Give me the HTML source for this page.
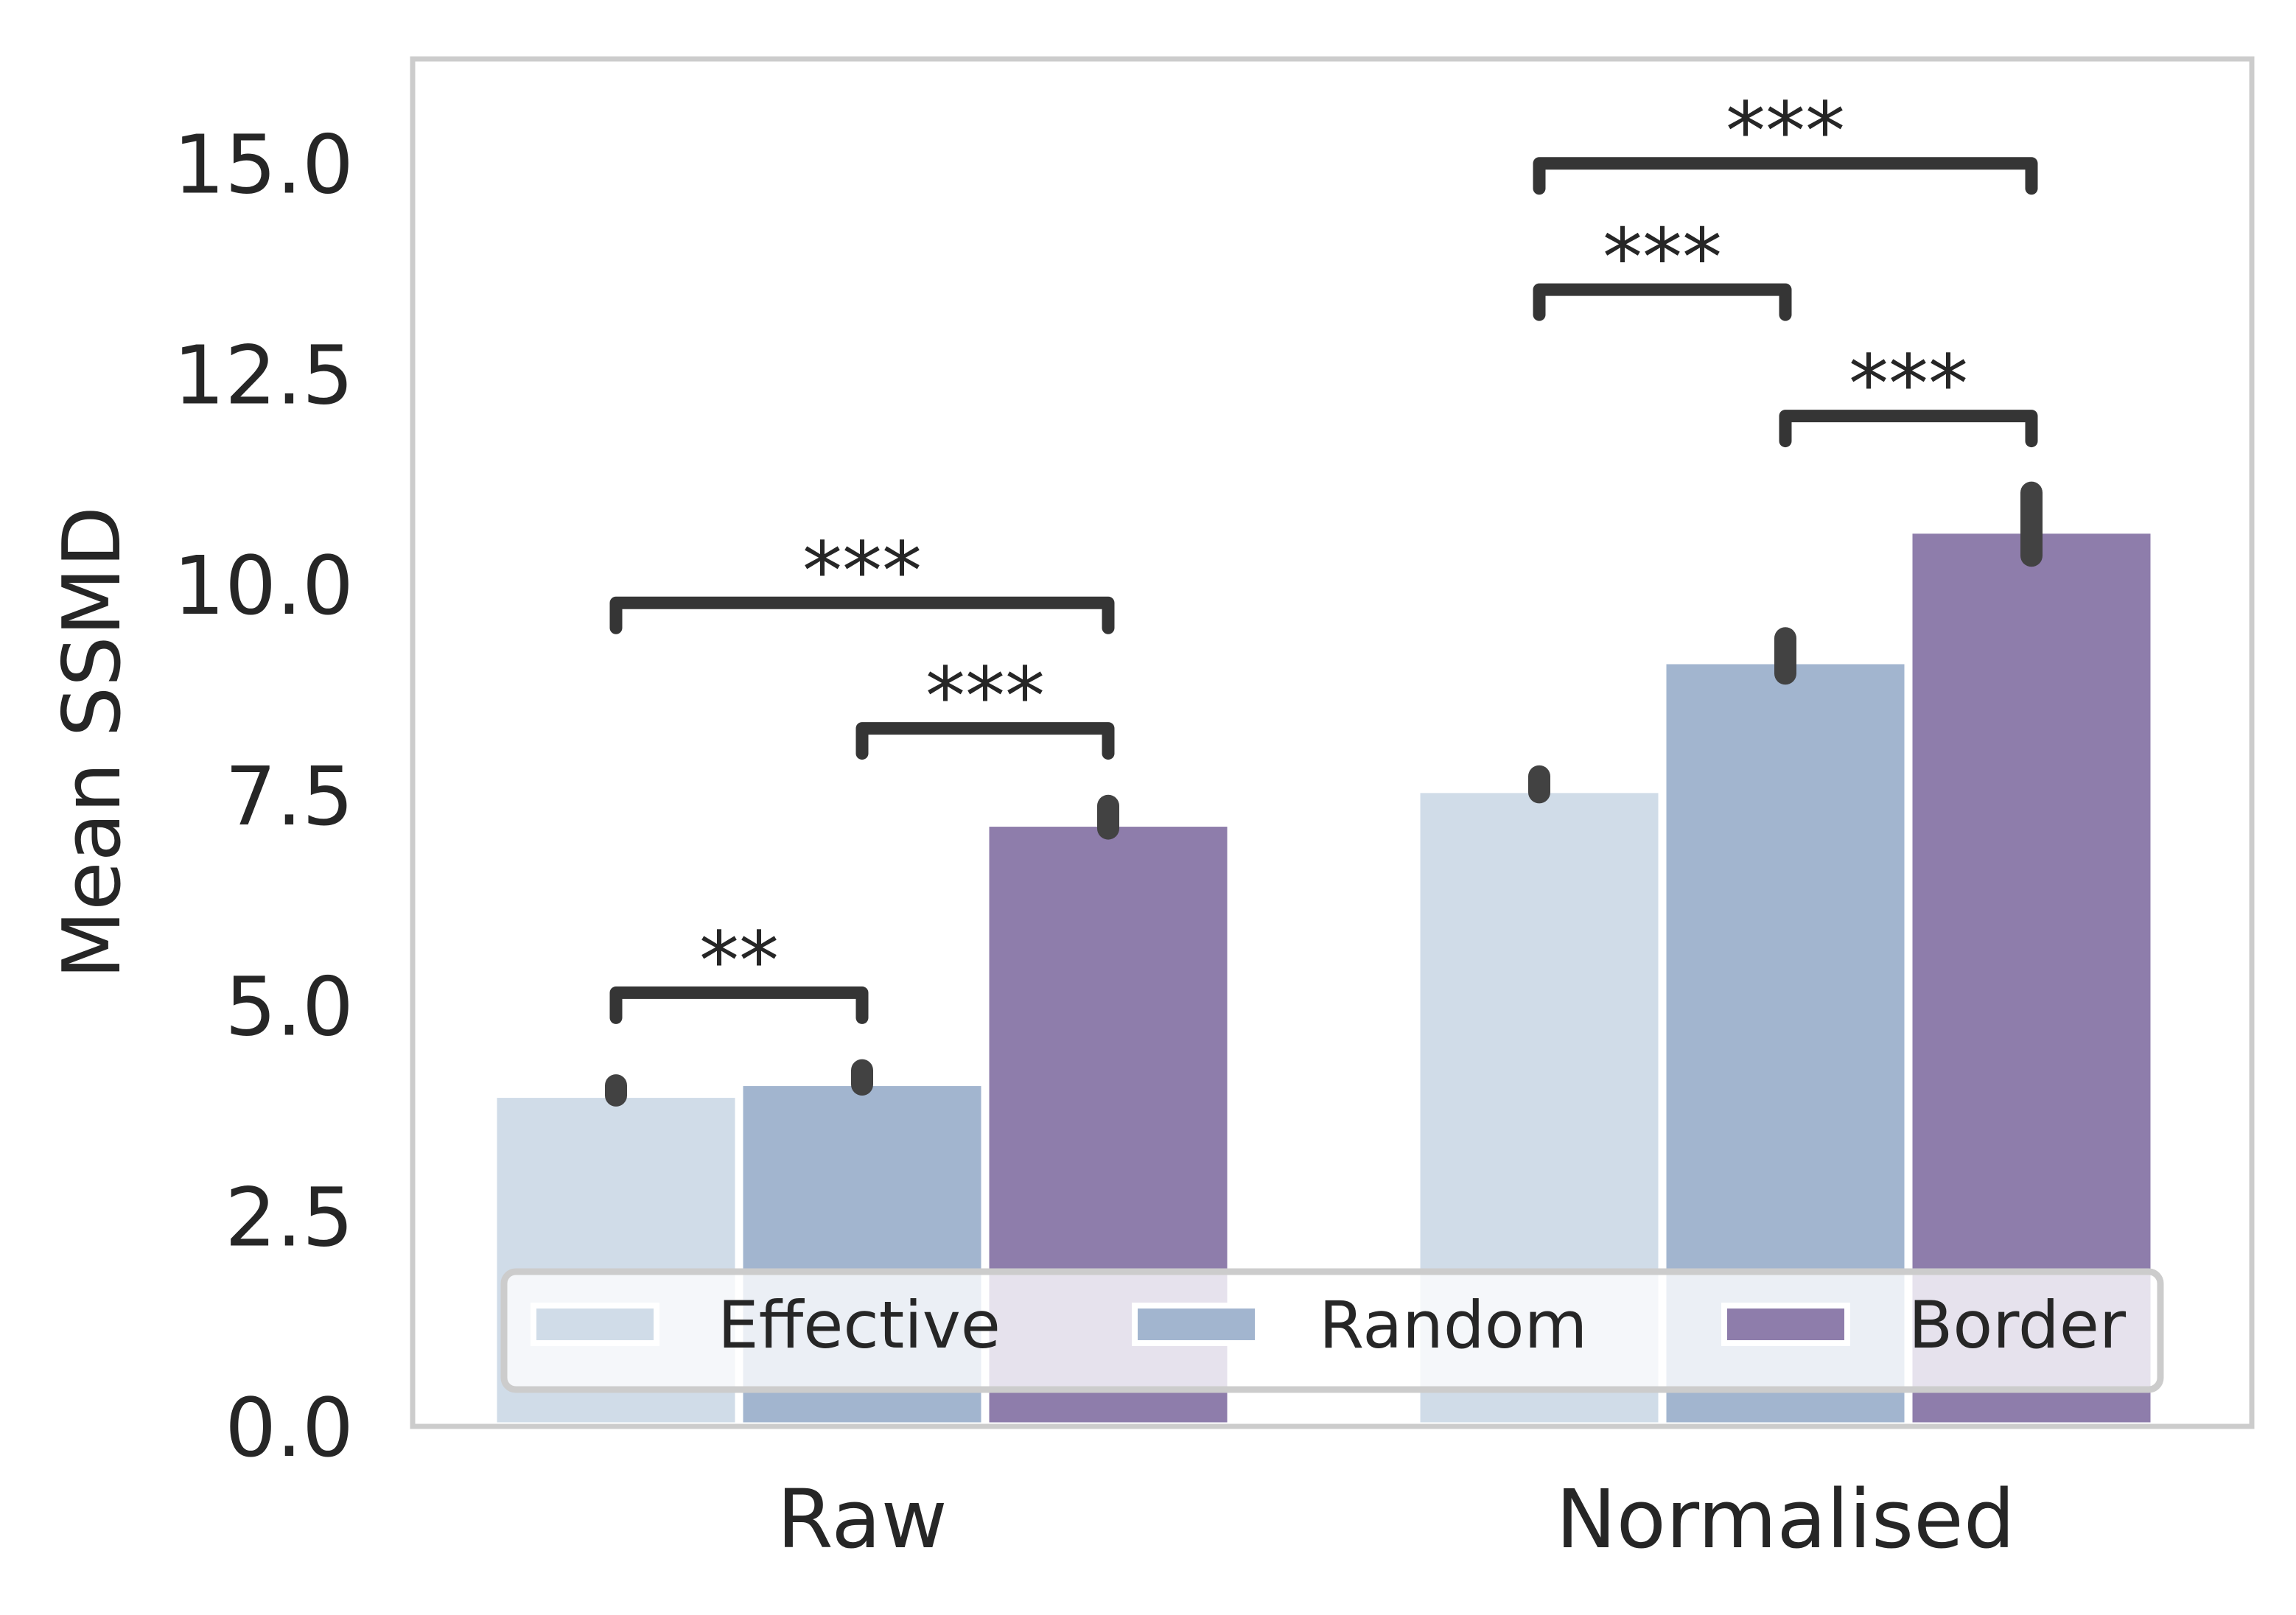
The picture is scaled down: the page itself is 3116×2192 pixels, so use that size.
<!DOCTYPE html>
<html><head><meta charset="utf-8"><style>
html,body{margin:0;padding:0;background:#fff;}
svg{display:block;font-family:"DejaVu Sans","Liberation Sans",sans-serif;}
</style></head><body>
<svg id="chart" width="3116" height="2192" viewBox="0 0 3116 2192" xmlns="http://www.w3.org/2000/svg"></svg>
<script>
const categories = ["Raw", "Normalised"];
const seriesNames = ["Effective", "Random", "Border"];
const seriesColors = ["#d0dce8", "#a2b5cf", "#8e7dab"];
const effectiveVals = [3.95, 7.57];
const randomVals = [4.09, 9.10];
const borderVals = [7.17, 10.65];
const effectiveErr = [[3.93, 4.05], [7.53, 7.72]];
const randomErr = [[4.06, 4.23], [8.94, 9.36]];
const borderErr = [[7.10, 7.37], [10.34, 11.09]];
const yTicks = [0, 2.5, 5, 7.5, 10, 12.5, 15];
const yTickLabels = ["0.0", "2.5", "5.0", "7.5", "10.0", "12.5", "15.0"];
// brackets: [group, seriesA, seriesB, yValue, label]
const brackets = [
  [0, 0, 1, 5.15, "**"], [0, 1, 2, 8.29, "***"], [0, 0, 2, 9.78, "***"],
  [1, 0, 1, 13.5, "***"], [1, 1, 2, 12.0, "***"], [1, 0, 2, 15.0, "***"]
];

const NS = "http://www.w3.org/2000/svg";
const svg = document.getElementById("chart");
const L = 560, R = 3056, T = 80, B = 1936;
const yMax = 16.24;
const y = v => B - v / yMax * (B - T);
const groupW = 1253;
const x0 = 1170;
const gx = i => x0 + i * groupW;
const barW = 334;
const bx = (g, s) => gx(g) - 1.5 * barW + s * barW;

function mk(tag, attrs, parent) {
  const e = document.createElementNS(NS, tag);
  for (const k in attrs) e.setAttribute(k, attrs[k]);
  (parent || svg).appendChild(e);
  return e;
}

const frame = mk("rect", {x: L, y: T, width: R - L, height: B - T, fill: "#fff"});



const vals = [effectiveVals, randomVals, borderVals];
const errs = [effectiveErr, randomErr, borderErr];
for (let s = 0; s < 3; s++) {
  for (let g = 0; g < categories.length; g++) {
    const r = mk("rect", {x: bx(g, s), y: y(vals[s][g]), width: barW, height: B - y(vals[s][g]),
      fill: seriesColors[s], stroke: "#fff", "stroke-width": 11});
    
    
  }
}
for (let s = 0; s < 3; s++) {
  for (let g = 0; g < categories.length; g++) {
    const cx = bx(g, s) + barW / 2;
    const e = mk("line", {x1: cx, x2: cx, y1: y(errs[s][g][0]), y2: y(errs[s][g][1]),
      stroke: "#424242", "stroke-width": 30, "stroke-linecap": "round"});
    
    
  }
}
brackets.forEach((b, i) => {
  const xa = bx(b[0], b[1]) + barW / 2, xb = bx(b[0], b[2]) + barW / 2, yy = y(b[3]);
  const p = mk("path", {d: `M${xa},${yy + 34} L${xa},${yy} L${xb},${yy} L${xb},${yy + 34}`,
    fill: "none", stroke: "#353535", "stroke-width": 17, "stroke-linecap": "round", "stroke-linejoin": "round"});
  
  
  const t = mk("text", {x: (xa + xb) / 2, y: yy - 6, "text-anchor": "middle", "font-size": 108, fill: "#262626"});
  t.textContent = b[4];
  
  
});

const border = mk("rect", {x: L, y: T, width: R - L, height: B - T, fill: "none", stroke: "#cccccc", "stroke-width": 7});



yTicks.forEach((v, i) => {
  const t = mk("text", {x: 480, y: y(v) + 40, "text-anchor": "end", "font-size": 110, fill: "#262626"});
  t.textContent = yTickLabels[i];
  
  
});
categories.forEach((c, g) => {
  const t = mk("text", {x: gx(g), y: 2100, "text-anchor": "middle", "font-size": 110, fill: "#262626"});
  t.textContent = c;
  
  
});
const yt = mk("text", {x: 0, y: 0, "text-anchor": "middle", "font-size": 108, fill: "#262626",
  transform: "translate(162,1008) rotate(-90)"});
yt.textContent = "Mean SSMD";



const lg = mk("g", {});


mk("rect", {x: 684, y: 1726, width: 2248, height: 160, rx: 16, fill: "#fff", "fill-opacity": 0.78,
  stroke: "#cccccc", "stroke-width": 9}, lg);
const lx = [724, 1540, 2340];
seriesNames.forEach((n, s) => {
  const e = mk("g", {}, lg);
  
  
  mk("rect", {x: lx[s], y: 1772, width: 167, height: 51, fill: seriesColors[s], stroke: "#fff", "stroke-width": 8}, e);
  const t = mk("text", {x: lx[s] + 250, y: 1829, "font-size": 88, fill: "#262626"}, e);
  t.textContent = n;
});
</script>
</body></html>
